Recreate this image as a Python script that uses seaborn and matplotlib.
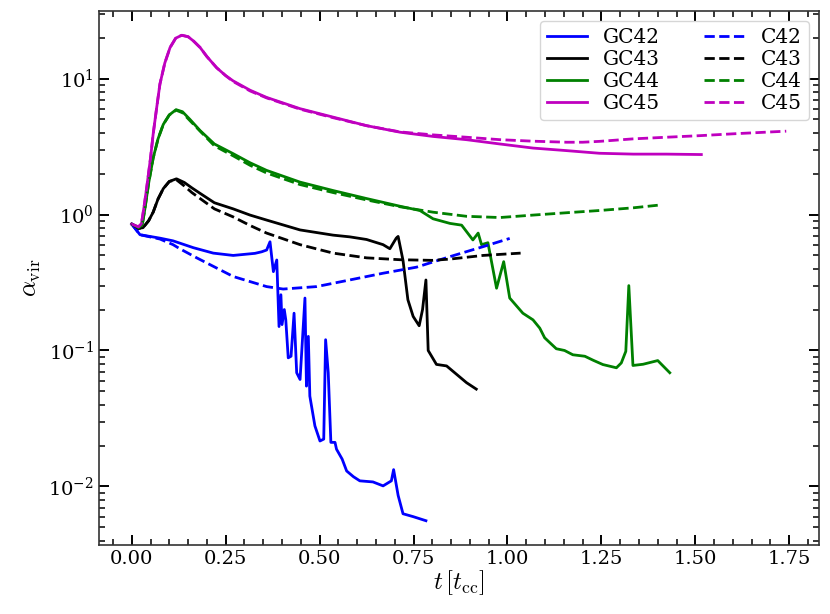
import numpy as np
import pandas as pd
import matplotlib
matplotlib.use("Agg")
import matplotlib.pyplot as plt
import seaborn as sns

# values (t in t_cc, alpha_vir)
t_gc42 = [0, 0.022, 0.075, 0.11, 0.164, 0.217, 0.27, 0.328, 0.346, 0.359, 0.368, 0.377, 0.386,
          0.392, 0.397, 0.4, 0.406, 0.41, 0.4165, 0.424, 0.432, 0.439, 0.448, 0.461, 0.465, 0.47,
          0.474, 0.4875, 0.501, 0.511, 0.516, 0.523, 0.53, 0.541, 0.545, 0.56, 0.572, 0.59, 0.607,
          0.642, 0.669, 0.691, 0.697, 0.709, 0.722, 0.749, 0.783]
a_gc42 = [0.85, 0.71, 0.67, 0.64, 0.57, 0.52, 0.5, 0.518, 0.532, 0.548, 0.63, 0.38, 0.463,
          0.15, 0.257, 0.155, 0.2, 0.168, 0.0883, 0.0907, 0.188, 0.0686, 0.0612, 0.243, 0.0547, 0.127,
          0.0462, 0.0279, 0.0216, 0.0223, 0.12, 0.0686, 0.0211, 0.0211, 0.0188, 0.0159, 0.013, 0.0118, 0.011,
          0.0108, 0.0101, 0.011, 0.0133, 0.0086, 0.0063, 0.006, 0.0056]

t_gc43 = [0, 0.018, 0.03, 0.045, 0.057, 0.07, 0.084, 0.1, 0.119, 0.14, 0.16, 0.182, 0.22, 0.27, 0.315,
          0.359, 0.448, 0.536, 0.58, 0.625, 0.669, 0.687, 0.704, 0.709, 0.722, 0.735, 0.749, 0.765,
          0.774, 0.783, 0.789, 0.811, 0.838, 0.864, 0.891, 0.917]
a_gc43 = [0.85, 0.79, 0.8, 0.9, 1.04, 1.3, 1.55, 1.75, 1.83, 1.72, 1.57, 1.43, 1.22, 1.1, 0.99,
          0.91, 0.77, 0.705, 0.685, 0.655, 0.6, 0.56, 0.67, 0.69, 0.46, 0.236, 0.178, 0.152,
          0.2, 0.33, 0.1, 0.079, 0.077, 0.067, 0.058, 0.052]

t_gc44 = [0, 0.018, 0.028, 0.035, 0.045, 0.057, 0.07, 0.084, 0.1, 0.118, 0.135, 0.155, 0.182, 0.22, 0.27,
          0.315, 0.359, 0.448, 0.536, 0.625, 0.714, 0.767, 0.802, 0.847, 0.878, 0.908, 0.922, 0.931,
          0.948, 0.971, 0.99, 1.006, 1.041, 1.068, 1.086, 1.099, 1.113, 1.13, 1.152, 1.174, 1.206,
          1.228, 1.254, 1.29, 1.303, 1.315, 1.323, 1.334, 1.361, 1.4, 1.432]
a_gc44 = [0.85, 0.8, 0.84, 1.1, 1.7, 2.6, 3.6, 4.6, 5.4, 5.9, 5.7, 5.0, 4.14, 3.3, 2.8,
          2.4, 2.11, 1.73, 1.5, 1.31, 1.15, 1.07, 0.93, 0.86, 0.835, 0.65, 0.73, 0.6,
          0.62, 0.287, 0.45, 0.243, 0.188, 0.168, 0.146, 0.124, 0.114, 0.103, 0.1, 0.093, 0.0907,
          0.0848, 0.0788, 0.0746, 0.081, 0.0986, 0.30, 0.0776, 0.0792, 0.0843, 0.0686]

t_gc45 = [0, 0.018, 0.026, 0.033, 0.04, 0.05, 0.057, 0.066, 0.075, 0.088, 0.102, 0.117, 0.133, 0.15, 0.165,
          0.182, 0.2, 0.226, 0.25, 0.27, 0.315, 0.359, 0.448, 0.536, 0.625, 0.714, 0.802, 0.891,
          0.98, 1.068, 1.157, 1.245, 1.335, 1.423, 1.516]
a_gc45 = [0.85, 0.81, 0.86, 1.15, 1.59, 2.6, 3.9, 6.0, 9.1, 13.0, 16.9, 19.8, 20.8, 20.3, 18.8,
          16.9, 14.5, 12.0, 10.5, 9.6, 8.2, 7.26, 6.0, 5.2, 4.5, 4.03, 3.75, 3.55,
          3.3, 3.08, 2.95, 2.82, 2.78, 2.78, 2.76]

t_c42 = [0, 0.022, 0.075, 0.11, 0.128, 0.173, 0.27, 0.359, 0.403, 0.492, 0.58, 0.669, 0.758, 0.847, 0.935, 1.006]
a_c42 = [0.85, 0.71, 0.66, 0.6, 0.56, 0.48, 0.35, 0.295, 0.283, 0.295, 0.33, 0.37, 0.41, 0.49, 0.58, 0.667]

t_c43 = [0, 0.018, 0.03, 0.045, 0.057, 0.07, 0.084, 0.1, 0.119, 0.14, 0.16, 0.182, 0.22, 0.27, 0.315,
         0.359, 0.448, 0.536, 0.625, 0.714, 0.8, 0.847, 0.935, 1.035]
a_c43 = [0.85, 0.79, 0.8, 0.9, 1.04, 1.3, 1.55, 1.75, 1.8, 1.62, 1.45, 1.31, 1.1, 0.96, 0.83,
         0.73, 0.6, 0.52, 0.48, 0.465, 0.46, 0.47, 0.5, 0.52]

t_c44 = [0, 0.018, 0.028, 0.035, 0.045, 0.057, 0.07, 0.084, 0.1, 0.118, 0.135, 0.155, 0.182, 0.22, 0.27,
         0.315, 0.359, 0.448, 0.536, 0.625, 0.714, 0.802, 0.891, 0.98, 1.068, 1.157, 1.245, 1.335, 1.4]
a_c44 = [0.85, 0.8, 0.84, 1.1, 1.7, 2.6, 3.6, 4.6, 5.4, 5.85, 5.6, 4.9, 4.1, 3.2, 2.7,
         2.3, 2.02, 1.66, 1.45, 1.28, 1.14, 1.04, 0.97, 0.95, 0.99, 1.03, 1.07, 1.12, 1.17]

t_c45 = [0, 0.018, 0.026, 0.033, 0.04, 0.05, 0.057, 0.066, 0.075, 0.088, 0.102, 0.117, 0.133, 0.15, 0.165,
         0.182, 0.2, 0.226, 0.25, 0.27, 0.315, 0.359, 0.448, 0.536, 0.625, 0.714, 0.802, 0.891,
         0.98, 1.068, 1.157, 1.2, 1.245, 1.335, 1.423, 1.512, 1.6, 1.742]
a_c45 = [0.85, 0.81, 0.86, 1.15, 1.59, 2.6, 3.9, 6.0, 9.1, 13.0, 16.9, 19.8, 20.8, 20.3, 18.8,
         16.9, 14.5, 12.0, 10.5, 9.5, 8.1, 7.2, 5.95, 5.15, 4.5, 4.05, 3.85, 3.7,
         3.55, 3.46, 3.4, 3.4, 3.45, 3.6, 3.7, 3.8, 3.92, 4.1]

blue, black, green, magenta = "#0000ff", "#000000", "#008000", "#bf00bf"
series = [
    ("GC42", t_gc42, a_gc42, blue, "-"),
    ("GC43", t_gc43, a_gc43, black, "-"),
    ("GC44", t_gc44, a_gc44, green, "-"),
    ("GC45", t_gc45, a_gc45, magenta, "-"),
    ("C42", t_c42, a_c42, blue, "--"),
    ("C43", t_c43, a_c43, black, "--"),
    ("C44", t_c44, a_c44, green, "--"),
    ("C45", t_c45, a_c45, magenta, "--"),
]

plt.rcParams["font.family"] = ["DejaVu Serif"]
plt.rcParams["mathtext.fontset"] = "cm"

fig = plt.figure(figsize=(8.3, 6.14), dpi=100)
ax = fig.add_axes([0.1193, 0.1124, 0.8674, 0.8697])

for name, t, a, col, ls in series:
    df = pd.DataFrame({"t": t, "a": a})
    sns.lineplot(data=df, x="t", y="a", color=col, linestyle=ls, lw=2,
                 label=name, sort=False, ax=ax)

ax.set_yscale("log")
ax.margins(x=0.05, y=0.05)
ax.set_xticks([0, 0.25, 0.5, 0.75, 1.0, 1.25, 1.5, 1.75])
ax.xaxis.set_minor_locator(matplotlib.ticker.MultipleLocator(0.05))
ax.yaxis.set_minor_locator(matplotlib.ticker.LogLocator(base=10, subs=np.arange(2, 10), numticks=20))
ax.tick_params(which="both", direction="in", top=True, right=True, labelsize=14)
ax.tick_params(which="major", length=7, width=1.4, color="black")
ax.tick_params(which="minor", length=4.5, width=1.1, color="black")
for sp in ax.spines.values():
    sp.set_linewidth(1.2)
    sp.set_color("#333333")
ax.set_xlabel(r"$t\,[t_{\rm cc}]$", fontsize=18, labelpad=0)
ax.set_ylabel(r"$\alpha_{\rm vir}$", fontsize=18)
ax.legend(loc="upper right", ncol=2, fontsize=14.5, framealpha=0.8,
          labelspacing=0.15, borderpad=0.35, columnspacing=2.2)

fig.savefig("out.png", dpi=100)
